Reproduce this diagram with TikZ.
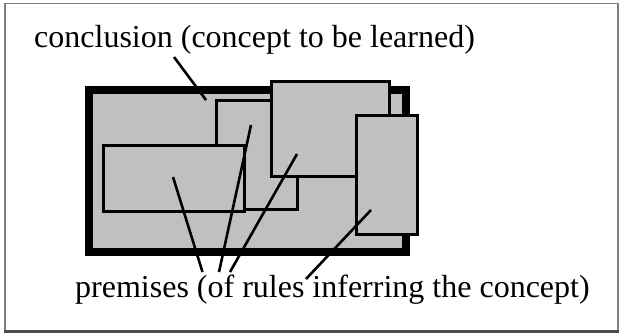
\documentclass[tikz,border=0pt]{standalone}
\usepackage{fontspec}
\setmainfont{Liberation Serif}
\begin{document}
\begin{tikzpicture}[x=1pt,y=-1pt,
  boxfill/.style={fill={rgb,255:red,192;green,192;blue,192}, draw=black, line width=3pt},
  pointer/.style={draw=black, line width=2.6pt},
  lbl/.style={font=\fontsize{32}{36}\selectfont, inner sep=0pt, anchor=base west}]
\useasboundingbox (0,0) rectangle (619,333);
% outer frame
\draw[gray, line width=1.2pt] (5,331) -- (5,3.5) -- (618,3.5) -- (618,331);
\draw[black!70, line width=3pt] (3.5,331.5) -- (619,331.5);
% conclusion box
\node[boxfill, line width=8pt, minimum width=317pt, minimum height=162pt, inner sep=0pt] (concl) at (247.5,171) {};
% premise boxes
\node[boxfill, minimum width=81pt, minimum height=109pt, inner sep=0pt] (pb) at (256.5,154.5) {};
\node[boxfill, minimum width=141pt, minimum height=66pt, inner sep=0pt] (pa) at (173.5,178) {};
\node[boxfill, minimum width=118pt, minimum height=95pt, inner sep=0pt] (pc) at (330,128.5) {};
\node[boxfill, minimum width=61pt, minimum height=119pt, inner sep=0pt] (pd) at (386.5,174.5) {};
% labels
\node[lbl] (tc) at (34,47) {conclusion (concept to be learned)};
\node[lbl] (tp) at (75,297) {premises (of rules inferring the concept)};
% pointer coordinates
\coordinate (c0) at (174,57);
\coordinate (c1) at (206,100);
\coordinate (a1) at (173,177);
\coordinate (a0) at (202.5,272);
\coordinate (b1) at (251,125);
\coordinate (b0) at (219,272);
\coordinate (cc1) at (297,154);
\coordinate (cc0) at (230,272);
\coordinate (d1) at (371,210);
\coordinate (d0) at (306,279);
\draw[pointer] (c0) -- (c1);
\draw[pointer] (a0) -- (a1);
\draw[pointer] (b0) -- (b1);
\draw[pointer] (cc0) -- (cc1);
\draw[pointer] (d0) -- (d1);
\end{tikzpicture}
\end{document}
